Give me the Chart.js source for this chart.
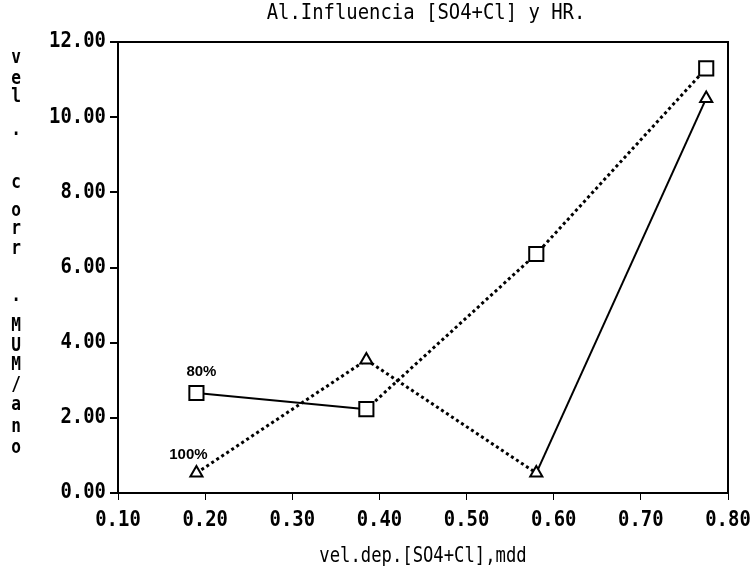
<!DOCTYPE html>
<html>
<head>
<meta charset="utf-8">
<script src="https://cdn.jsdelivr.net/npm/chart.js@4.4.0/dist/chart.umd.min.js"></script>
<style>
  html, body { margin: 0; padding: 0; background: #fff; }
  #wrap { width: 752px; height: 588px; }
</style>
</head>
<body>
<div id="wrap"><canvas id="chart" width="752" height="588"></canvas></div>
<script>
// values
const xValues = [0.19, 0.385, 0.58, 0.775];
const hr80 = [2.66, 2.23, 6.36, 11.3];
const hr100 = [0.53, 3.54, 0.53, 10.5];
const seriesLabels = ['80%', '100%'];
// which segments are drawn dotted (index of segment start)
const dotted80 = [false, true, true];
const dotted100 = [true, true, false];

const titleText = 'Al.Influencia [SO4+Cl] y HR.';
const xTitle = 'vel.dep.[SO4+Cl],mdd';
const yTitleChars = ['v','e','l','.','c','o','r','r','.','M','U','M','/','a','n','o'];
const yTitlePos = [58, 79, 97, 130, 183, 211, 229, 249, 296, 326, 346, 365, 385, 405, 427, 448];

const MONO = '"DejaVu Sans Mono", "Liberation Mono", monospace';

function toPoints(ys){ return xValues.map((x,i)=>({x, y: ys[i]})); }

// narrow text like the old plotter font
function narrowText(ctx, text, x, y, sx){
  ctx.save();
  ctx.translate(x, y);
  ctx.scale(sx, 1);
  ctx.fillText(text, 0, 0);
  ctx.restore();
}

const textPlugin = {
  id: 'texts',
  afterDraw(chart){
    const {ctx, chartArea: a, scales} = chart;
    ctx.save();
    ctx.strokeStyle = '#000';
    ctx.lineWidth = 2;
    ctx.beginPath();
    ctx.moveTo(a.left, a.top);
    ctx.lineTo(a.right, a.top);
    ctx.lineTo(a.right, a.bottom);
    ctx.stroke();

    ctx.fillStyle = '#000';
    ctx.textBaseline = 'middle';

    // tick labels
    ctx.font = 'bold 21px ' + MONO;
    ctx.textAlign = 'center';
    scales.x.ticks.forEach(t=>{
      narrowText(ctx, Number(t.value).toFixed(2), scales.x.getPixelForValue(t.value), 521, 0.9);
    });
    ctx.textAlign = 'right';
    scales.y.ticks.forEach(t=>{
      narrowText(ctx, Number(t.value).toFixed(2), 106, scales.y.getPixelForValue(t.value), 0.9);
    });

    ctx.textAlign = 'center';
    ctx.font = '21px ' + MONO;
    narrowText(ctx, titleText, (a.left + a.right) / 2 + 3, 14, 0.9);
    narrowText(ctx, xTitle, (a.left + a.right) / 2, 557, 0.82);

    ctx.font = 'bold 19px ' + MONO;
    yTitleChars.forEach((c,i)=>narrowText(ctx, c, 16, yTitlePos[i], 0.85));

    // series labels beside the first point of each series
    ctx.font = 'bold 15px "Liberation Sans", Arial, sans-serif';
    const x = scales.x, y = scales.y;
    ctx.fillText(seriesLabels[0], x.getPixelForValue(xValues[0]) + 5, y.getPixelForValue(hr80[0]) - 21);
    ctx.fillText(seriesLabels[1], x.getPixelForValue(xValues[0]) - 8, y.getPixelForValue(hr100[0]) - 18);
    ctx.restore();
  }
};

function segStyle(flags){
  return {
    borderDash: c => flags[c.p0DataIndex] ? [3, 3] : undefined,
    borderWidth: c => flags[c.p0DataIndex] ? 3 : 2
  };
}

new Chart(document.getElementById('chart'), {
  type: 'scatter',
  data: {
    datasets: [
      {
        label: seriesLabels[0],
        data: toPoints(hr80),
        showLine: true,
        borderColor: '#000',
        borderWidth: 2,
        segment: segStyle(dotted80),
        pointStyle: 'rect',
        pointRadius: 10,
        pointBorderWidth: 2,
        pointBorderColor: '#000',
        pointBackgroundColor: '#fff'
      },
      {
        label: seriesLabels[1],
        data: toPoints(hr100),
        showLine: true,
        borderColor: '#000',
        borderWidth: 2,
        segment: segStyle(dotted100),
        pointStyle: 'triangle',
        pointRadius: 7,
        pointBorderWidth: 2,
        pointBorderColor: '#000',
        pointBackgroundColor: '#fff'
      }
    ]
  },
  options: {
    responsive: false,
    animation: false,
    layout: { padding: { top: 42, right: 24, left: 0, bottom: 0 } },
    plugins: { legend: { display: false }, title: { display: false }, tooltip: { enabled: false } },
    scales: {
      x: {
        type: 'linear',
        min: 0.1, max: 0.8,
        afterFit: s => { s.height = 95; s.paddingLeft = 0; s.paddingRight = 0; },
        border: { display: true, color: '#000', width: 2 },
        grid: { drawOnChartArea: false, drawTicks: true, tickLength: 7, color: '#000', lineWidth: 1 },
        ticks: { stepSize: 0.1, display: false }
      },
      y: {
        min: 0, max: 12,
        afterFit: s => { s.width = 118; s.paddingTop = 0; s.paddingBottom = 0; },
        border: { display: true, color: '#000', width: 2 },
        grid: { drawOnChartArea: false, drawTicks: true, tickLength: 8, color: '#000', lineWidth: 2 },
        ticks: { stepSize: 2, display: false }
      }
    }
  },
  plugins: [textPlugin]
});
</script>
</body>
</html>
